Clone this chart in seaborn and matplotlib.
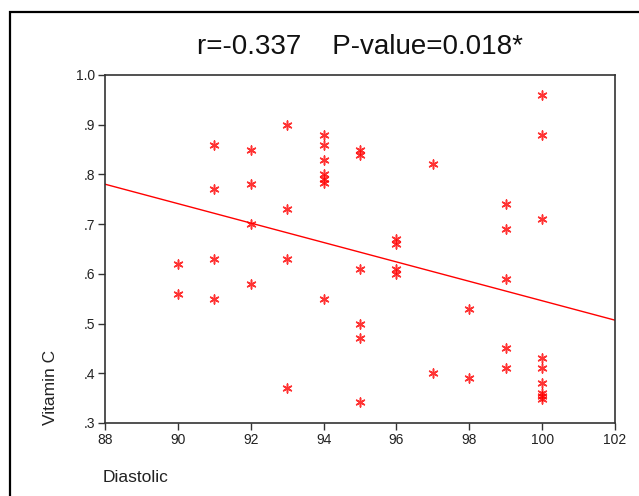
import numpy as np
import pandas as pd
import matplotlib
matplotlib.use("Agg")
import matplotlib.pyplot as plt
import seaborn as sns
from matplotlib.patches import Rectangle

# Data
diastolic = [90, 90,
             91, 91, 91, 91,
             92, 92, 92, 92,
             93, 93, 93, 93,
             94, 94, 94, 94, 94, 94, 94,
             95, 95, 95, 95, 95, 95,
             96, 96, 96, 96,
             97, 97,
             98, 98,
             99, 99, 99, 99, 99,
             100, 100, 100, 100, 100, 100, 100, 100, 100]
vitamin_c = [0.62, 0.56,
             0.86, 0.77, 0.63, 0.55,
             0.85, 0.78, 0.70, 0.58,
             0.90, 0.73, 0.63, 0.37,
             0.88, 0.86, 0.83, 0.80, 0.79, 0.782, 0.55,
             0.85, 0.84, 0.61, 0.50, 0.47, 0.342,
             0.67, 0.66, 0.61, 0.60,
             0.82, 0.40,
             0.53, 0.39,
             0.74, 0.69, 0.59, 0.45, 0.41,
             0.96, 0.88, 0.71, 0.43, 0.41, 0.38, 0.36, 0.355, 0.349]
x_ticks = [88, 90, 92, 94, 96, 98, 100, 102]
y_ticks = [0.3, 0.4, 0.5, 0.6, 0.7, 0.8, 0.9, 1.0]
y_tick_labels = [".3", ".4", ".5", ".6", ".7", ".8", ".9", "1.0"]
title_text = "r=-0.337    P-value=0.018*"

df = pd.DataFrame({"Diastolic": diastolic, "Vitamin C": vitamin_c})

sns.set_style("white")
plt.rcParams["font.family"] = ["Liberation Sans", "DejaVu Sans"]

fig = plt.figure(figsize=(6.39, 4.96), dpi=100)
ax = fig.add_axes([105/639, 1-423/496, 510/639, 348/496])

ax.set_xlim(88, 102)
ax.set_ylim(0.3, 1.0)

sns.regplot(data=df, x="Diastolic", y="Vitamin C", ax=ax, ci=None,
            truncate=False, color="#ff0000", marker=(6, 2, 0),
            scatter_kws={"s": 42, "linewidths": 1.1},
            line_kws={"linewidth": 1.0})

ax.set_xlim(88, 102)
ax.set_ylim(0.3, 1.0)
ax.set_xticks(x_ticks)
ax.set_xticklabels([str(t) for t in x_ticks])
ax.set_yticks(y_ticks)
ax.set_yticklabels(y_tick_labels)

for s in ax.spines.values():
    s.set_color("#333333")
    s.set_linewidth(1.2)
ax.tick_params(axis="both", direction="out", length=5, width=1, color="#333333",
               labelsize=10, labelcolor="#222222", pad=2,
               bottom=True, left=True)

ax.set_xlabel("Diastolic", fontsize=12.5, color="#222222", loc="left")
ax.xaxis.set_label_coords(-0.004, -0.135)
ax.xaxis.label.set_horizontalalignment("left")
ax.xaxis.label.set_verticalalignment("top")

ax.set_ylabel("Vitamin C", fontsize=12.5, color="#222222", loc="bottom")
ax.yaxis.set_label_coords(-0.092, -0.005)

ax.set_title(title_text, fontsize=20, color="#111111", pad=15)

# outer frame
fig.patches.append(Rectangle((10/639, -0.1), 1.2, 1 - 12/496 + 0.1,
                             transform=fig.transFigure, fill=False,
                             edgecolor="black", linewidth=1.6, zorder=0))

fig.savefig("out.png", dpi=100)
